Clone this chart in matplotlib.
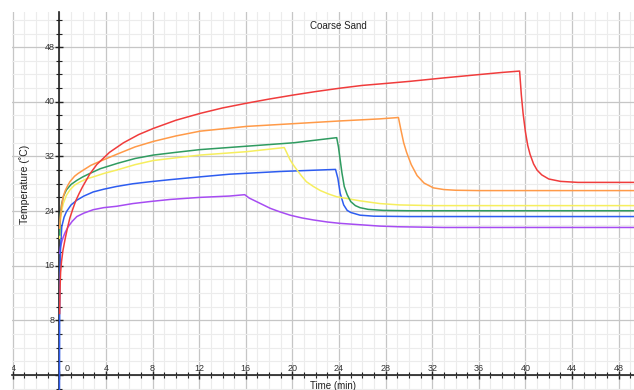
import matplotlib
matplotlib.use('Agg')
import matplotlib.pyplot as plt
from matplotlib.ticker import MultipleLocator

plt.rcParams['font.family'] = ['Liberation Sans', 'DejaVu Sans']

# time (min) / temperature (C), one pair of lists per run
red_t = [0.02, 0.06, 0.1, 0.18, 0.3, 0.5, 0.7, 0.9, 1.15, 1.4, 1.7, 2.0, 2.6, 3.2, 4.3, 5.5, 6.8, 8.06,
         10, 12.07, 14, 16.08, 18, 20.1, 22, 24.1, 26, 28.1, 30.1, 33, 36.1, 38, 39.5, 39.65, 39.8,
         40.0, 40.2, 40.4, 40.7, 41.0, 41.4, 42.0, 43.0, 44.5, 50]
red_T = [9.0, 13.0, 15.0, 16.6, 18.2, 20.0, 21.6, 23.0, 24.3, 25.5, 26.6, 27.6, 29.4, 30.8, 32.6, 34.0,
         35.2, 36.1, 37.3, 38.3, 39.1, 39.8, 40.4, 41.0, 41.5, 42.0, 42.4, 42.7, 43.0, 43.5, 44.0, 44.3,
         44.5, 41.0, 38.3, 35.6, 33.6, 32.3, 30.9, 30.0, 29.3, 28.7, 28.35, 28.2, 28.2]

orange_t = [0.02, 0.06, 0.1, 0.2, 0.33, 0.5, 0.7, 0.9, 1.3, 1.6, 2.05, 2.7, 3.5, 4.2, 4.9, 6.5, 8.06,
            10, 12.07, 16.08, 20.1, 24.1, 27.5, 29.1, 29.3, 29.55, 29.8, 30.2, 30.7, 31.3, 32.1, 33.0,
            34.0, 36, 50]
orange_T = [21.5, 22.8, 23.5, 24.9, 26.1, 27.0, 27.7, 28.3, 29.1, 29.5, 30.0, 30.7, 31.3, 31.8, 32.3,
            33.4, 34.2, 35.0, 35.7, 36.4, 36.8, 37.2, 37.5, 37.7, 36.0, 34.0, 32.6, 30.8, 29.2, 28.1,
            27.4, 27.15, 27.05, 27.0, 27.0]

green_t = [0.02, 0.05, 0.1, 0.2, 0.35, 0.6, 1.0, 1.5, 2.0, 2.6, 3.5, 5.0, 6.5, 8.06, 10, 12.07, 16.08,
           20.1, 23.8, 23.95, 24.1, 24.25, 24.45, 24.7, 25.0, 25.4, 25.8, 26.5, 27.8, 30, 50]
green_T = [20.5, 22.7, 23.9, 25.1, 26.2, 27.1, 27.9, 28.5, 29.0, 29.5, 30.2, 31.0, 31.7, 32.2, 32.6,
           33.0, 33.5, 34.0, 34.75, 33.4, 31.5, 29.6, 27.6, 26.4, 25.4, 24.8, 24.5, 24.25, 24.1, 24.05,
           24.05]

yellow_t = [0.02, 0.06, 0.1, 0.2, 0.33, 0.6, 0.9, 1.3, 1.8, 2.3, 2.9, 3.8, 4.9, 6.5, 8.06, 10, 12.07,
            16.08, 19.3, 19.5, 19.8, 20.1, 20.4, 20.8, 21.2, 21.8, 22.4, 23.1, 23.8, 24.8, 25.8, 27.5,
            29.2, 32, 50]
yellow_T = [20.0, 21.7, 22.7, 24.1, 25.1, 26.3, 27.1, 27.8, 28.3, 28.7, 29.0, 29.5, 30.0, 30.8, 31.4,
            31.8, 32.2, 32.7, 33.3, 32.6, 31.5, 30.7, 30.0, 29.1, 28.3, 27.6, 27.0, 26.5, 26.1, 25.8,
            25.5, 25.1, 24.9, 24.8, 24.8]

blue_t = [0.0, 0.02, 0.05, 0.1, 0.2, 0.4, 0.6, 1.0, 1.5, 2.1, 2.9, 3.8, 4.9, 6.3, 7.8, 9.5, 12, 14.6,
          19, 23.7, 23.9, 24.1, 24.4, 24.7, 25.0, 25.8, 27, 30, 50]
blue_T = [-5, 10, 15, 18.8, 21.7, 23.1, 23.9, 24.9, 25.6, 26.2, 26.8, 27.2, 27.6, 28.0, 28.3, 28.6,
          29.0, 29.4, 29.8, 30.1, 28.8, 26.6, 24.9, 24.1, 23.8, 23.4, 23.25, 23.2, 23.2]

purple_t = [0.02, 0.1, 0.2, 0.33, 0.5, 0.75, 1.1, 1.5, 2.1, 2.9, 3.8, 4.9, 6.3, 7.8, 9.5, 12, 14.6,
            15.9, 16.3, 16.9, 17.5, 18.1, 18.9, 19.8, 20.8, 21.8, 23, 24.1, 25.8, 27.5, 29.2, 33, 50]
purple_T = [17.8, 18.8, 19.5, 20.2, 20.9, 21.7, 22.5, 23.2, 23.7, 24.2, 24.5, 24.7, 25.1, 25.4, 25.7,
            26.0, 26.2, 26.4, 25.9, 25.4, 24.9, 24.4, 23.9, 23.4, 23.0, 22.7, 22.4, 22.2, 22.0, 21.8,
            21.7, 21.6, 21.6]

x_labels = [-4, 0, 4, 8, 12, 16, 20, 24, 28, 32, 36, 40, 44, 48]
y_labels = [8, 16, 24, 32, 40, 48]

fig = plt.figure(figsize=(6.34, 3.9), dpi=100)
ax = fig.add_axes([12 / 634, 0, 622 / 634, 378 / 390])
ax.set_xlim(-4.07, 49.32)
ax.set_ylim(-2.2, 53.15)

ax.xaxis.set_major_locator(MultipleLocator(4))
ax.xaxis.set_minor_locator(MultipleLocator(1))
ax.yaxis.set_major_locator(MultipleLocator(8))
ax.yaxis.set_minor_locator(MultipleLocator(2))
ax.grid(which='minor', color='#ececec', lw=0.8)
ax.grid(which='major', color='#c6c6c6', lw=0.9)
ax.set_axisbelow(True)

for s in ['top', 'right']:
    ax.spines[s].set_visible(False)
ax.spines['left'].set_position(('data', 0))
ax.spines['bottom'].set_position(('data', 0))
for s in ['left', 'bottom']:
    ax.spines[s].set_color('#222222')
    ax.spines[s].set_linewidth(1.2)
    ax.spines[s].set_zorder(1.5)
ax.tick_params(which='major', direction='inout', length=6, width=1, color='#222222',
               labelbottom=False, labelleft=False)
ax.tick_params(which='minor', direction='inout', length=4, width=0.8, color='#222222')

lw = 1.1
ax.plot(purple_t, purple_T, color='#a64cf2', lw=lw)
ax.plot(blue_t, blue_T, color='#2d5cf0', lw=lw)
ax.plot(yellow_t, yellow_T, color='#f6ee5e', lw=lw)
ax.plot(green_t, green_T, color='#2f9b60', lw=lw)
ax.plot(orange_t, orange_T, color='#ff9a48', lw=lw)
ax.plot(red_t, red_T, color='#f03c3c', lw=lw)

for v in x_labels:
    xpos = 0.65 if v == 0 else v
    ax.text(xpos, 1.0, str(v), ha='center', va='center', fontsize=6.5, color='#333333', clip_on=True)
for v in y_labels:
    ax.text(-0.4, v, str(v), ha='right', va='center', fontsize=6.5, color='#333333', clip_on=True)

fig.text(338.8 / 634, 1 - 26 / 390, 'Coarse Sand', ha='center', va='center', fontsize=7, color='#222222')
fig.text(333 / 634, 1 - 386 / 390, 'Time (min)', ha='center', va='center', fontsize=7, color='#222222')
fig.text(25 / 634, 1 - 184 / 390, 'Temperature (˚C)', ha='center', va='center', rotation=90,
         fontsize=7.5, color='#222222')

fig.savefig('out.png', dpi=100)
